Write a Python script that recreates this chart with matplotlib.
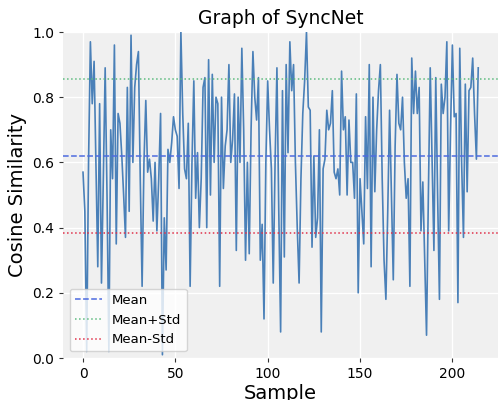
import matplotlib
matplotlib.use("Agg")
import matplotlib.pyplot as plt
import numpy as np

values = [
    0.57, 0.45, 0.02, 0.60, 0.97, 0.78, 0.91, 0.60, 0.28, 0.78,
    0.23, 0.55, 0.89, 0.50, 0.02, 0.70, 0.55, 0.96, 0.35, 0.75,
    0.72, 0.62, 0.50, 0.37, 0.83, 0.45, 0.99, 0.60, 0.83, 0.90,
    0.94, 0.55, 0.22, 0.60, 0.79, 0.57, 0.61, 0.55, 0.42, 0.60,
    0.39, 0.55, 0.75, 0.01, 0.43, 0.27, 0.64, 0.60, 0.66, 0.74,
    0.70, 0.68, 0.52, 1.00, 0.75, 0.58, 0.55, 0.72, 0.22, 0.60,
    0.85, 0.49, 0.63, 0.40, 0.55, 0.83, 0.86, 0.40, 0.915, 0.50,
    0.87, 0.60, 0.80, 0.78, 0.22, 0.80, 0.52, 0.65, 0.70, 0.90,
    0.60, 0.67, 0.81, 0.33, 0.80, 0.60, 0.95, 0.70, 0.30, 0.60,
    0.32, 0.70, 0.94, 0.80, 0.73, 0.86, 0.30, 0.41, 0.12, 0.60,
    0.85, 0.70, 0.58, 0.23, 0.60, 0.89, 0.45, 0.08, 0.82, 0.31,
    0.90, 0.63, 0.97, 0.82, 0.90, 0.60, 0.40, 0.23, 0.55, 0.75,
    0.85, 1.00, 0.77, 0.76, 0.34, 0.62, 0.37, 0.43, 0.70, 0.08,
    0.58, 0.61, 0.76, 0.70, 0.72, 0.82, 0.57, 0.55, 0.58, 0.50,
    0.88, 0.70, 0.74, 0.50, 0.73, 0.60, 0.60, 0.49, 0.81, 0.20,
    0.55, 0.45, 0.35, 0.74, 0.52, 0.90, 0.28, 0.80, 0.51, 0.70,
    0.82, 0.90, 0.55, 0.30, 0.18, 0.45, 0.76, 0.50, 0.24, 0.65,
    0.87, 0.72, 0.70, 0.80, 0.60, 0.49, 0.55, 0.22, 0.92, 0.75,
    0.88, 0.75, 0.83, 0.39, 0.54, 0.30, 0.07, 0.50, 0.89, 0.61,
    0.33, 0.86, 0.50, 0.18, 0.84, 0.75, 0.80, 0.97, 0.39, 0.70,
    0.96, 0.74, 0.75, 0.17, 0.95, 0.60, 0.37, 0.84, 0.51, 0.82,
    0.83, 0.92, 0.75, 0.61, 0.89,
]
samples = np.arange(len(values))
mean_val = 0.62
std_val = 0.236

fig = plt.figure(figsize=(4.98, 4.00), dpi=100)
ax = fig.add_axes([0.127, 0.105, 0.873, 0.815])
ax.set_facecolor("#f0f0f0")
for s in ax.spines.values():
    s.set_visible(False)
ax.grid(True, color="white", linewidth=1.0)
ax.set_axisbelow(True)

ax.plot(samples, values, color="#4a80b8", linewidth=1.2)
ax.axhline(mean_val, color="#4d6be0", linestyle="--", linewidth=1.1, label="Mean")
ax.axhline(mean_val + std_val, color="#5dbb7f", linestyle=":", linewidth=1.1, label="Mean+Std")
ax.axhline(mean_val - std_val, color="#e0304a", linestyle=":", linewidth=1.1, label="Mean-Std")

ax.set_ylim(0, 1.0)
ax.set_yticks([0.0, 0.2, 0.4, 0.6, 0.8, 1.0])
ax.set_xticks([0, 50, 100, 150, 200])
ax.tick_params(labelsize=10, length=3, color="#333333")
ax.set_title("Graph of SyncNet", fontsize=13.5)
ax.set_xlabel("Sample", fontsize=14, labelpad=2)
ax.set_ylabel("Cosine Similarity", fontsize=14)
ax.legend(loc="lower left", fontsize=9.5, framealpha=0.8, facecolor="white")

fig.savefig("out.png", dpi=100)
